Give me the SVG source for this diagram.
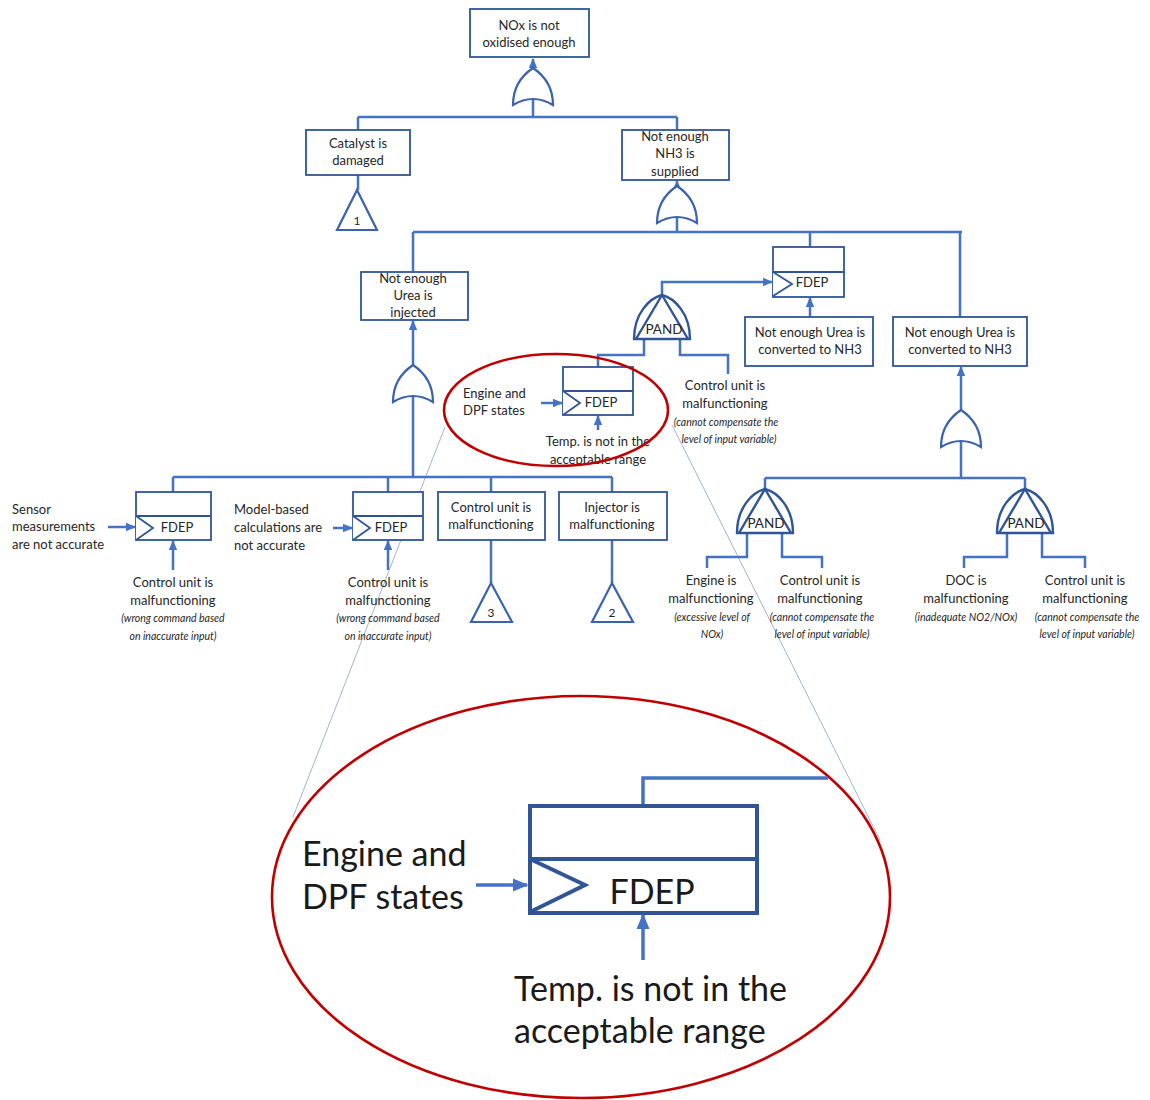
<svg xmlns="http://www.w3.org/2000/svg" width="1150" height="1100" viewBox="0 0 1150 1100">
<defs>
<style>
.box{fill:#fff;stroke:#2F5597;stroke-width:1.8}
.ln{fill:none;stroke:#4472C4;stroke-width:2.5}
.gate{fill:#fff;stroke:#3A62AE;stroke-width:2.2}
.pand{fill:#fff;stroke:#2F5597;stroke-width:2.4}
.t{font-family:Lato,"Open Sans","Liberation Sans",sans-serif;font-size:13px;fill:#262626;text-anchor:middle}
.tl{text-anchor:start}
.it{font-family:Lato,"Open Sans","Liberation Sans",sans-serif;font-size:10.5px;font-style:italic;fill:#262626;text-anchor:middle}
.pt{font-family:Lato,"Open Sans","Liberation Sans",sans-serif;font-size:13.5px;fill:#262626;text-anchor:middle}
.big{font-family:Lato,"Open Sans","Liberation Sans",sans-serif;font-size:34px;fill:#1a1a1a}
.thin{fill:none;stroke:#9AAAC8;stroke-width:0.9}
.red{fill:none;stroke:#C00000;stroke-width:2.6}
</style>
<marker id="ah" markerUnits="userSpaceOnUse" markerWidth="10" markerHeight="10" viewBox="0 0 10 10" refX="9" refY="5" orient="auto">
<path d="M0,0.8 L10,5 L0,9.2 Z" fill="#4472C4"/>
</marker>
<marker id="ahb" markerUnits="userSpaceOnUse" markerWidth="16" markerHeight="16" viewBox="0 0 10 10" refX="9" refY="5" orient="auto">
<path d="M0,0.8 L10,5 L0,9.2 Z" fill="#4472C4"/>
</marker>
<path id="or" d="M -20,37 C -20,17 -9,6 0,0 C 9,6 20,17 20,37 Q 0,25 -20,37 Z"/>
<g id="pandg">
<path d="M -28,44 C -28,18 -12,3 0,0 C 12,3 28,18 28,44 Z"/>
<path d="M -26,44 L 0,0 L 26,44" fill="none"/>
</g>
</defs>

<g id="zoom-guides">
<line class="thin" x1="445" y1="427" x2="293" y2="817"/>
<line class="thin" x1="672" y1="425" x2="880" y2="840"/>
</g>

<g id="connectors">
<path class="ln" d="M533,99 V117 M358,117 H677 M358,117 V130 M677,117 V130"/>
<path class="ln" d="M358,175 V190"/>
<path class="ln" d="M677,217 V232 M413,232 H962 M413,232 V271 M810,232 V247 M960,232 V317"/>
<path class="ln" d="M413,396 V477 M173,477 H612 M173,477 V492 M388,477 V492 M491,477 V492 M612,477 V492"/>
<path class="ln" d="M491,540 V583 M612,540 V583"/>
<path class="ln" d="M961,441 V478 M765,478 H1025 M765,478 V489 M1025,478 V489"/>
<path class="ln" d="M598,367 V355 H644 V339 M680,339 V355 H728 V374"/>
<path class="ln" d="M747,533 V557 H707 V568 M782,533 V557 H822 V568"/>
<path class="ln" d="M1007,532 V557 H964 V568 M1042,532 V557 H1085 V568"/>
<path class="ln" d="M662,295 V282 H772" marker-end="url(#ah)"/>
<path class="ln" d="M810,317 V298" marker-end="url(#ah)"/>
<path class="ln" d="M533,68 V59" marker-end="url(#ah)"/>
<path class="ln" d="M677,186 V181" marker-end="url(#ah)"/>
<path class="ln" d="M413,365 V321" marker-end="url(#ah)"/>
<path class="ln" d="M961,410 V367" marker-end="url(#ah)"/>
<path class="ln" d="M108,527 H135" marker-end="url(#ah)"/>
<path class="ln" d="M173,570 V541" marker-end="url(#ah)"/>
<path class="ln" d="M333,528 H352" marker-end="url(#ah)"/>
<path class="ln" d="M388,570 V541" marker-end="url(#ah)"/>
<path class="ln" d="M541,403 H562" marker-end="url(#ah)"/>
<path class="ln" d="M598,430 V416" marker-end="url(#ah)"/>
</g>

<g id="n-top"><rect class="box" x="470" y="9" width="119" height="48"/>
<text class="t" x="529" y="30">NOx is not</text><text class="t" x="529" y="47">oxidised enough</text></g>
<g id="g-or1"><use href="#or" class="gate" transform="translate(533,68)"/></g>

<g id="n-catalyst"><rect class="box" x="306" y="130" width="104" height="45"/>
<text class="t" x="358" y="148">Catalyst is</text><text class="t" x="358" y="165">damaged</text></g>
<g id="t-1"><path class="gate" d="M357,190 L377,230 L337,230 Z"/><text class="t" x="357" y="225" style="font-size:12px">1</text></g>

<g id="n-nh3"><rect class="box" x="622" y="130" width="107" height="50"/>
<text class="t" x="675" y="141">Not enough</text><text class="t" x="675" y="158">NH3 is</text><text class="t" x="675" y="176">supplied</text></g>
<g id="g-or2"><use href="#or" class="gate" transform="translate(677,186)"/></g>

<g id="n-urea-inj"><rect class="box" x="361" y="272" width="107" height="48"/>
<text class="t" x="413" y="283">Not enough</text><text class="t" x="413" y="300">Urea is</text><text class="t" x="413" y="317">injected</text></g>
<g id="g-or3"><use href="#or" class="gate" transform="translate(413,365)"/></g>

<g id="g-fdep-up"><rect class="box" x="773" y="247" width="71" height="50"/>
<path class="box" d="M773,272 H844 M773,272 L792,284 L773,296" fill="none"/>
<text class="t" x="812" y="287">FDEP</text></g>

<g id="n-conv1"><rect class="box" x="745" y="317" width="128" height="49"/>
<text class="t" x="810" y="337">Not enough Urea is</text><text class="t" x="810" y="354">converted to NH3</text></g>
<g id="n-conv2"><rect class="box" x="893" y="317" width="134" height="49"/>
<text class="t" x="960" y="337">Not enough Urea is</text><text class="t" x="960" y="354">converted to NH3</text></g>
<g id="g-or4"><use href="#or" class="gate" transform="translate(961,410)"/></g>

<g id="g-pand1"><use href="#pandg" class="pand" transform="translate(662,295)"/>
<text class="pt" x="664" y="334">PAND</text></g>

<g id="g-fdep-mid"><rect class="box" x="563" y="367" width="70" height="48"/>
<path class="box" d="M563,391 H633 M563,391 L580,403 L563,415" fill="none"/>
<text class="t" x="601" y="407">FDEP</text></g>
<g id="n-engine-dpf"><text class="t tl" x="463" y="398">Engine and</text><text class="t tl" x="463" y="415">DPF states</text></g>
<g id="n-temp"><text class="t" x="598" y="446">Temp. is not in the</text><text class="t" x="598" y="464">acceptable range</text></g>
<g id="n-cu-up"><text class="t" x="725" y="390">Control unit is</text><text class="t" x="725" y="408">malfunctioning</text>
<text class="it" x="726" y="426">(cannot compensate the</text><text class="it" x="729" y="443">level of input variable)</text></g>

<g id="n-sensor"><text class="t tl" x="12" y="514">Sensor</text><text class="t tl" x="12" y="531">measurements</text><text class="t tl" x="12" y="549">are not accurate</text></g>
<g id="g-fdep1"><rect class="box" x="136" y="492" width="75" height="48"/>
<path class="box" d="M136,516 H211 M136,516 L153,528 L136,540" fill="none"/>
<text class="t" x="177" y="532">FDEP</text></g>
<g id="n-cu1"><text class="t" x="173" y="587">Control unit is</text><text class="t" x="173" y="605">malfunctioning</text>
<text class="it" x="173" y="622">(wrong command based</text><text class="it" x="173" y="640">on inaccurate input)</text></g>

<g id="n-model"><text class="t tl" x="234" y="514">Model-based</text><text class="t tl" x="234" y="532">calculations are</text><text class="t tl" x="234" y="550">not accurate</text></g>
<g id="g-fdep2"><rect class="box" x="353" y="492" width="70" height="48"/>
<path class="box" d="M353,516 H423 M353,516 L370,528 L353,540" fill="none"/>
<text class="t" x="391" y="532">FDEP</text></g>
<g id="n-cu2"><text class="t" x="388" y="587">Control unit is</text><text class="t" x="388" y="605">malfunctioning</text>
<text class="it" x="388" y="622">(wrong command based</text><text class="it" x="388" y="640">on inaccurate input)</text></g>

<g id="n-cu-box"><rect class="box" x="438" y="492" width="107" height="48"/>
<text class="t" x="491" y="512">Control unit is</text><text class="t" x="491" y="529">malfunctioning</text></g>
<g id="t-3"><path class="gate" d="M491,583 L512,622 L471,622 Z"/><text class="t" x="491" y="617" style="font-size:12px">3</text></g>
<g id="n-injector"><rect class="box" x="559" y="492" width="108" height="48"/>
<text class="t" x="612" y="512">Injector is</text><text class="t" x="612" y="529">malfunctioning</text></g>
<g id="t-2"><path class="gate" d="M612,583 L633,622 L592,622 Z"/><text class="t" x="612" y="617" style="font-size:12px">2</text></g>

<g id="g-pand2"><use href="#pandg" class="pand" transform="translate(765,489)"/>
<text class="pt" x="766" y="528">PAND</text></g>
<g id="g-pand3"><use href="#pandg" class="pand" transform="translate(1025,489)"/>
<text class="pt" x="1026" y="528">PAND</text></g>

<g id="n-engine"><text class="t" x="711" y="585">Engine is</text><text class="t" x="711" y="603">malfunctioning</text>
<text class="it" x="712" y="621">(excessive level of</text><text class="it" x="712" y="638">NOx)</text></g>
<g id="n-cu3"><text class="t" x="820" y="585">Control unit is</text><text class="t" x="820" y="603">malfunctioning</text>
<text class="it" x="822" y="621">(cannot compensate the</text><text class="it" x="822" y="638">level of input variable)</text></g>
<g id="n-doc"><text class="t" x="966" y="585">DOC is</text><text class="t" x="966" y="603">malfunctioning</text>
<text class="it" x="966" y="621">(inadequate NO2/NOx)</text></g>
<g id="n-cu4"><text class="t" x="1085" y="585">Control unit is</text><text class="t" x="1085" y="603">malfunctioning</text>
<text class="it" x="1087" y="621">(cannot compensate the</text><text class="it" x="1087" y="638">level of input variable)</text></g>

<g id="highlight-small"><ellipse class="red" cx="556" cy="410" rx="112" ry="56"/></g>

<g id="zoom-detail">
<ellipse class="red" cx="581" cy="897" rx="309" ry="201"/>
<path d="M643,806 V778 H828" fill="none" stroke="#4472C4" stroke-width="3.5"/>
<rect x="530" y="806" width="227" height="107" fill="#fff" stroke="#2F5597" stroke-width="4"/>
<path d="M530,859 H757 M530,859 L585,885 L530,912" fill="none" stroke="#2F5597" stroke-width="4"/>
<text class="big" x="652" y="904" text-anchor="middle">FDEP</text>
<text class="big" x="302" y="866">Engine and</text>
<text class="big" x="302" y="909">DPF states</text>
<path d="M476,885 H527" fill="none" stroke="#4472C4" stroke-width="3.5" marker-end="url(#ahb)"/>
<path d="M643,960 V915" fill="none" stroke="#4472C4" stroke-width="3.5" marker-end="url(#ahb)"/>
<text class="big" x="514" y="1001">Temp. is not in the</text>
<text class="big" x="514" y="1043">acceptable range</text>
</g>
</svg>
